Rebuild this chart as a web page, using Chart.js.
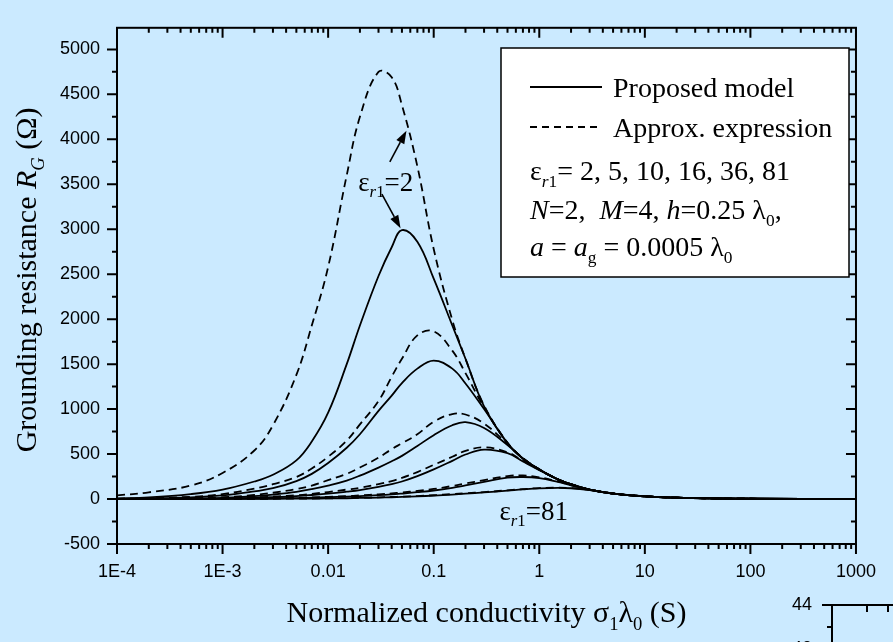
<!DOCTYPE html>
<html>
<head>
<meta charset="utf-8">
<title>Grounding resistance</title>
<script src="https://cdn.jsdelivr.net/npm/chart.js@4.4.1/dist/chart.umd.min.js"></script>
<style>
  html, body { margin: 0; padding: 0; overflow: hidden; background: #cbeaff; }
  #plot { position: absolute; left: 0; top: 0; }
</style>
</head>
<body>
<canvas id="plot" width="893" height="642"></canvas>
<script>
'use strict';

// normalized conductivity sigma1*lambda0 (S), shared by every curve
const sigma = [1e-4, 2e-4, 5e-4, 1e-3, 2e-3, 3e-3, 5e-3, 7e-3, 0.01, 0.015, 0.02, 0.03, 0.04, 0.05, 0.07,
  0.1, 0.15, 0.2, 0.3, 0.5, 0.7, 1, 1.5, 2, 3, 5, 10, 20, 50, 100, 1000];
const xTickLabels = ['1E-4', '1E-3', '0.01', '0.1', '1', '10', '100', '1000'];
const yTickValues = [-500, 0, 500, 1000, 1500, 2000, 2500, 3000, 3500, 4000, 4500, 5000];
const insetTickValues = [44, 43, 42];
const epsR1 = [2, 5, 10, 16, 36, 81];

// R_G (ohm) from the proposed model
const rgModel2 = [5, 18, 55, 105, 195, 270, 430, 640, 960, 1500, 1930, 2480, 2800, 2990, 2860,
  2450, 1930, 1560, 1030, 620, 450, 328, 218, 163, 104, 61, 30, 15, 6, 3, 0];
const rgModel5 = [3, 7, 18, 40, 85, 120, 200, 280, 400, 570, 720, 980, 1150, 1290, 1450,
  1540, 1450, 1285, 1000, 620, 452, 329, 219, 164, 104, 61, 30, 15, 6, 3, 0];
const rgModel10 = [1, 3, 7, 14, 32, 50, 80, 110, 150, 205, 260, 350, 420, 480, 590,
  710, 820, 855, 790, 600, 448, 329, 219, 164, 104, 61, 30, 15, 6, 3, 0];
const rgModel16 = [1, 2, 4, 7, 14, 21, 33, 45, 60, 82, 100, 135, 165, 195, 255,
  330, 425, 495, 550, 510, 418, 322, 217, 163, 104, 61, 30, 15, 6, 3, 0];
const rgModel36 = [0, 1, 1, 2, 5, 7, 11, 15, 20, 27, 33, 43, 52, 61, 76,
  95, 125, 152, 190, 238, 245, 232, 190, 153, 103, 61, 30, 15, 6, 3, 0];
const rgModel81 = [0, 0, 0, 1, 2, 3, 4, 5, 7, 9, 12, 16, 20, 24, 30,
  38, 50, 60, 73, 93, 107, 119, 125, 120, 99, 61, 30, 15, 6, 3, 0];

// R_G (ohm) from the approximate expression
const rgApprox2 = [40, 75, 150, 290, 540, 820, 1380, 1930, 2580, 3600, 4250, 4750, 4690, 4380, 3700,
  2780, 1990, 1560, 1040, 625, 455, 330, 220, 165, 105, 62, 30, 15, 6, 3, 0];
const rgApprox5 = [5, 10, 25, 55, 115, 165, 245, 340, 470, 650, 830, 1090, 1360, 1560, 1820,
  1865, 1650, 1400, 1020, 625, 455, 330, 220, 165, 105, 62, 30, 15, 6, 3, 0];
const rgApprox10 = [2, 4, 10, 20, 45, 70, 110, 150, 210, 280, 350, 460, 555, 620, 720,
  860, 945, 940, 840, 612, 452, 330, 220, 165, 105, 62, 30, 15, 6, 3, 0];
const rgApprox16 = [1, 2, 5, 9, 18, 27, 42, 58, 78, 105, 125, 165, 200, 235, 300,
  380, 470, 535, 575, 520, 425, 325, 218, 164, 104, 61, 30, 15, 6, 3, 0];
const rgApprox36 = [0, 1, 2, 3, 6, 9, 14, 19, 25, 33, 40, 52, 63, 73, 90,
  112, 145, 172, 210, 255, 262, 242, 195, 156, 104, 61, 30, 15, 6, 3, 0];
const rgApprox81 = [0, 0, 1, 1, 2, 3, 5, 6, 8, 11, 14, 19, 23, 27, 33,
  42, 55, 64, 77, 97, 110, 122, 127, 122, 101, 61, 30, 15, 6, 3, 0];

const modelSeries = [rgModel2, rgModel5, rgModel10, rgModel16, rgModel36, rgModel81];
const approxSeries = [rgApprox2, rgApprox5, rgApprox10, rgApprox16, rgApprox36, rgApprox81];

const SERIF = '"Liberation Serif", "Times New Roman", serif';
const SANS = '"Liberation Sans", Arial, sans-serif';
const DASH = [8, 5];

function setFont(ctx, size, italic) {
  ctx.font = (italic ? 'italic ' : '') + size + 'px ' + SERIF;
}

// text runs: [text, flags], 'i' = italic, 's' = subscript
function measureRuns(ctx, runs, size) {
  let w = 0;
  for (const [t, f = ''] of runs) {
    setFont(ctx, f.includes('s') ? size * 0.62 : size, f.includes('i'));
    w += ctx.measureText(t).width;
  }
  return w;
}

function drawRuns(ctx, x, y, runs, size) {
  for (const [t, f = ''] of runs) {
    const sub = f.includes('s');
    setFont(ctx, sub ? size * 0.62 : size, f.includes('i'));
    ctx.fillText(t, x, sub ? y + size * 0.25 : y);
    x += ctx.measureText(t).width;
  }
  return x;
}

function arrow(ctx, x0, y0, x1, y1) {
  const ang = Math.atan2(y1 - y0, x1 - x0);
  const hl = 13, hw = 4.5;
  const bx = x1 - hl * Math.cos(ang), by = y1 - hl * Math.sin(ang);
  ctx.beginPath();
  ctx.moveTo(x0, y0);
  ctx.lineTo(bx, by);
  ctx.stroke();
  ctx.beginPath();
  ctx.moveTo(x1, y1);
  ctx.lineTo(bx + hw * Math.sin(ang), by - hw * Math.cos(ang));
  ctx.lineTo(bx - hw * Math.sin(ang), by + hw * Math.cos(ang));
  ctx.closePath();
  ctx.fill();
}

// box frame with major/minor tick marks on all four sides
const axisFrame = {
  id: 'axisFrame',
  afterDatasetsDraw(chart, args, o) {
    const { ctx, chartArea: a, scales: { x: sx, y: sy } } = chart;
    ctx.save();
    ctx.strokeStyle = '#000';
    ctx.lineWidth = 2;
    ctx.lineCap = 'square';
    ctx.strokeRect(a.left, a.top, a.right - a.left, a.bottom - a.top);

    ctx.lineCap = 'butt';
    ctx.beginPath();
    for (const t of o.yTicks) {
      const p = sy.getPixelForValue(t.v);
      if (p < a.top - 0.5 || p > a.bottom + 0.5) continue;
      const len = t.major ? 10 : 5;
      ctx.moveTo(a.left, p); ctx.lineTo(a.left - len, p);     // outward
      ctx.moveTo(a.right, p); ctx.lineTo(a.right - len, p);   // inward
    }
    for (const t of o.xTicks) {
      const p = sx.getPixelForValue(t.v);
      const len = t.major ? 10 : 5;
      ctx.moveTo(p, a.bottom); ctx.lineTo(p, a.bottom + len); // outward
      ctx.moveTo(p, a.top); ctx.lineTo(p, a.top + len);       // inward
    }
    ctx.stroke();
    ctx.restore();
  }
};

// legend box, axis titles and the epsilon callouts
const plotText = {
  id: 'plotText',
  afterDraw(chart) {
    const { ctx, chartArea: a, scales: { x, y } } = chart;
    ctx.save();
    ctx.fillStyle = '#000';
    ctx.strokeStyle = '#000';
    ctx.textBaseline = 'alphabetic';
    ctx.textAlign = 'left';

    // legend
    ctx.fillStyle = '#fff';
    ctx.fillRect(501, 48, 348, 229);
    ctx.lineWidth = 1.5;
    ctx.strokeRect(501, 48, 348, 229);
    ctx.fillStyle = '#000';
    ctx.lineWidth = 1.8;
    ctx.beginPath();
    ctx.moveTo(530, 87); ctx.lineTo(602, 87);
    ctx.stroke();
    ctx.setLineDash([7, 5]);
    ctx.beginPath();
    ctx.moveTo(530, 127); ctx.lineTo(602, 127);
    ctx.stroke();
    ctx.setLineDash([]);
    const fs = 28;
    drawRuns(ctx, 613, 97, [['Proposed model']], fs);
    drawRuns(ctx, 613, 137, [['Approx. expression']], fs);
    drawRuns(ctx, 530, 180, [['ε'], ['r', 'is'], ['1', 's'], ['= ' + epsR1.join(', ')]], fs);
    drawRuns(ctx, 530, 219, [['N', 'i'], ['=2,  '], ['M', 'i'], ['=4, '], ['h', 'i'], ['=0.25 λ'], ['0', 's'], [',']], fs);
    drawRuns(ctx, 530, 256, [['a', 'i'], [' = '], ['a', 'i'], ['g', 's'], [' = 0.0005 λ'], ['0', 's']], fs);

    // axis titles
    const ts = 30;
    const xt = [['Normalized conductivity σ'], ['1', 's'], ['λ'], ['0', 's'], [' (S)']];
    drawRuns(ctx, (a.left + a.right) / 2 - measureRuns(ctx, xt, ts) / 2, 622, xt, ts);
    const yt = [['Grounding resistance '], ['R', 'i'], ['G', 'is'], [' (Ω)']];
    ctx.save();
    ctx.translate(36, (a.top + a.bottom) / 2 - 6);
    ctx.rotate(-Math.PI / 2);
    drawRuns(ctx, -measureRuns(ctx, yt, ts) / 2, 0, yt, ts);
    ctx.restore();

    // callouts for the lowest and highest permittivity
    const cs = 27;
    const first = epsR1[0], last = epsR1[epsR1.length - 1];
    drawRuns(ctx, x.getPixelForValue(0.0193), y.getPixelForValue(3430),
      [['ε'], ['r', 'is'], ['1', 's'], ['=' + first]], cs);
    drawRuns(ctx, x.getPixelForValue(0.42), y.getPixelForValue(-229),
      [['ε'], ['r', 'is'], ['1', 's'], ['=' + last]], cs);
    ctx.lineWidth = 1.6;
    arrow(ctx, x.getPixelForValue(0.0384), y.getPixelForValue(3750),
      x.getPixelForValue(0.0552), y.getPixelForValue(4095));
    arrow(ctx, x.getPixelForValue(0.0323), y.getPixelForValue(3390),
      x.getPixelForValue(0.0485), y.getPixelForValue(3010));

    // corner of the neighbouring panel, cut off by the page edge
    const ix = 832, iy = 605, perUnit = 22;
    const iyPix = v => iy + (insetTickValues[0] - v) * perUnit;
    ctx.lineWidth = 2;
    ctx.beginPath();
    ctx.moveTo(ix, iy); ctx.lineTo(chart.width, iy);
    ctx.moveTo(ix, iy); ctx.lineTo(ix, chart.height);
    insetTickValues.forEach(v => {
      const len = v % 2 === 0 ? 10 : 5;
      ctx.moveTo(ix, iyPix(v)); ctx.lineTo(ix - len, iyPix(v));
    });
    ctx.moveTo(867, iy); ctx.lineTo(867, iy + 7);
    ctx.moveTo(888, iy); ctx.lineTo(888, iy + 7);
    ctx.stroke();
    ctx.font = '18px ' + SANS;
    ctx.textAlign = 'right';
    ctx.textBaseline = 'middle';
    insetTickValues.filter(v => v % 2 === 0).forEach(v => ctx.fillText(String(v), ix - 20, iyPix(v)));
    ctx.restore();
  }
};

const toPoints = vals => vals.map((v, i) => ({ x: sigma[i], y: v }));
const datasets = [];
epsR1.forEach((e, i) => {
  datasets.push({ label: 'Approx. εr1=' + e, data: toPoints(approxSeries[i]), borderDash: DASH });
  datasets.push({ label: 'Proposed εr1=' + e, data: toPoints(modelSeries[i]) });
});

const xTicks = [];
for (let e = -4; e <= 3; e++) {
  xTicks.push({ v: Math.pow(10, e), major: true });
  if (e < 3) for (let k = 2; k <= 9; k++) xTicks.push({ v: k * Math.pow(10, e), major: false });
}
const yTicks = [];
for (let v = -500; v <= 5250; v += 250) yTicks.push({ v, major: v % 500 === 0 });

new Chart(document.getElementById('plot'), {
  type: 'line',
  data: { datasets },
  options: {
    responsive: false,
    animation: false,
    events: [],
    layout: { padding: { top: 9, right: 23, left: 0, bottom: 0 } },
    elements: {
      point: { radius: 0 },
      line: { borderColor: '#000', borderWidth: 1.8, tension: 0.4, fill: false }
    },
    plugins: {
      legend: { display: false },
      tooltip: { enabled: false },
      axisFrame: { xTicks, yTicks }
    },
    scales: {
      x: {
        type: 'logarithmic',
        min: 1e-4,
        max: 1000,
        grid: { display: false, drawTicks: false },
        border: { display: false },
        ticks: {
          autoSkip: false,
          maxRotation: 0,
          padding: 17,
          color: '#000',
          font: { family: SANS, size: 18 },
          callback(v) {
            const e = Math.log10(v);
            if (Math.abs(e - Math.round(e)) > 1e-9) return '';
            return xTickLabels[Math.round(e) + 4];
          }
        },
        afterFit(s) { s.height = 98; }
      },
      y: {
        min: -500,
        max: 5240,
        grid: { display: false, drawTicks: false },
        border: { display: false },
        afterBuildTicks(s) { s.ticks = yTickValues.map(v => ({ value: v })); },
        ticks: {
          autoSkip: false,
          padding: 17,
          color: '#000',
          font: { family: SANS, size: 18 },
          callback: v => String(v)
        },
        afterFit(s) { s.width = 117; }
      }
    }
  },
  plugins: [axisFrame, plotText]
});
</script>
</body>
</html>
